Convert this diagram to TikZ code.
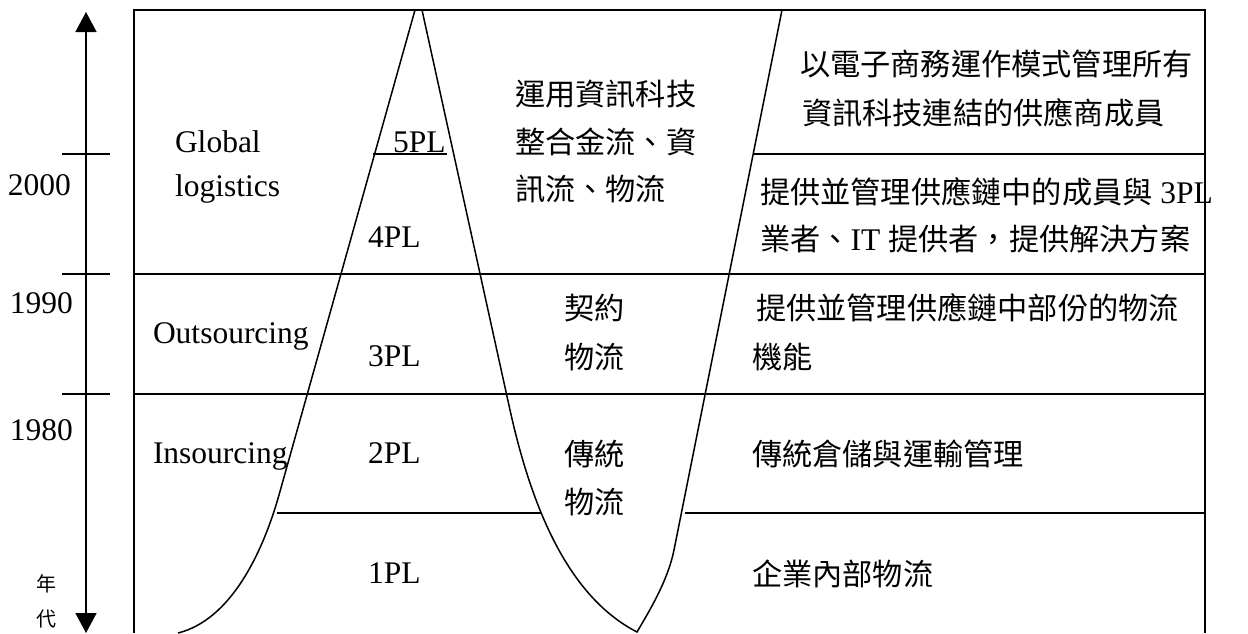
\documentclass[tikz,border=0pt]{standalone}
\usepackage{fontspec}
\setmainfont{Liberation Serif}
\newfontfamily\cjk{Noto Sans CJK TC}
\usetikzlibrary{arrows.meta}
\tikzset{
  txt/.style={anchor=base west, inner sep=0pt, outer sep=0pt, font=\fontsize{15.75}{23.5}\selectfont},
  ctxt/.style={anchor=base west, inner sep=0pt, outer sep=0pt, font=\cjk\fontsize{15.1}{23.5}\selectfont},
  small/.style={anchor=center, inner sep=0pt, font=\cjk\fontsize{10}{12}\selectfont},
  rule/.style={line width=0.8pt},
  curve/.style={line width=0.75pt},
  axisarrow/.style={line width=0.8pt, {Triangle[width=10.5pt,length=10pt]}-{Triangle[width=10.5pt,length=10pt]}}
}
\begin{document}
\begin{tikzpicture}[x=0.5pt,y=-0.5pt]
\useasboundingbox (0,0) rectangle (1248,633);
% time axis
\coordinate (axtop) at (86,12);
\coordinate (axbot) at (86,633);
\draw[axisarrow] (axbot) -- (axtop);
\foreach \yy in {154,274,394} \draw[rule] (62,\yy) -- (110,\yy);
\node[txt] (y2000) at (8,195) {2000};
\node[txt] (y1990) at (10,313) {1990};
\node[txt] (y1980) at (10,440) {1980};
\node[small] (nian) at (46,584) {年};
\node[small] (dai) at (46,619) {代};
% frame
\draw[rule] (134,633) -- (134,10) -- (1205,10) -- (1205,633);
\draw[rule] (134,274) -- (1205,274);
\draw[rule] (134,394) -- (1205,394);
\draw[rule] (277,513) -- (541,513);
\draw[rule] (685,513) -- (1205,513);
\draw[rule] (754,154) -- (1205,154);
\draw[rule] (373,154) -- (447,154);
% curves
\draw[curve] (178,633) .. controls (230,620) and (262,555) .. (279,495) -- (415,10);
\draw[curve] (422,10) -- (510,410) .. controls (530,500) and (565,595) .. (637,632)
  .. controls (650,610) and (668,580) .. (674,550) -- (782,10);
% left labels
\node[txt] (glob) at (175,152) {Global};
\node[txt] (logi) at (175,196) {logistics};
\node[txt] (outs) at (153,343) {Outsourcing};
\node[txt] (ins) at (153,463) {Insourcing};
% PL labels
\node[txt] (p5) at (393,152) {5PL};
\node[txt] (p4) at (368,247) {4PL};
\node[txt] (p3) at (368,366) {3PL};
\node[txt] (p2) at (368,463) {2PL};
\node[txt] (p1) at (368,583) {1PL};
% middle
\node[ctxt] (m1) at (515,105) {運用資訊科技};
\node[ctxt] (m2) at (515,153) {整合金流、資};
\node[ctxt] (m3) at (515,200) {訊流、物流};
\node[ctxt] (m4) at (564,319) {契約};
\node[ctxt] (m5) at (564,368) {物流};
\node[ctxt] (m6) at (564,465) {傳統};
\node[ctxt] (m7) at (564,513) {物流};
% right
\node[ctxt] (r1) at (800,75) {以電子商務運作模式管理所有};
\node[ctxt] (r2) at (802,124) {資訊科技連結的供應商成員};
\node[ctxt] (r3) at (760,203) {提供並管理供應鏈中的成員與{\fontspec{Liberation Serif}\fontsize{15.75}{23.5}\selectfont{} 3PL}};
\node[ctxt] (r4) at (760,250) {業者、{\fontspec{Liberation Serif}\fontsize{15.75}{23.5}\selectfont IT }提供者，提供解決方案};
\node[ctxt] (r5) at (756,319) {提供並管理供應鏈中部份的物流};
\node[ctxt] (r6) at (752,368) {機能};
\node[ctxt] (r7) at (752,465) {傳統倉儲與運輸管理};
\node[ctxt] (r8) at (752,585) {企業內部物流};
\end{tikzpicture}
\end{document}
